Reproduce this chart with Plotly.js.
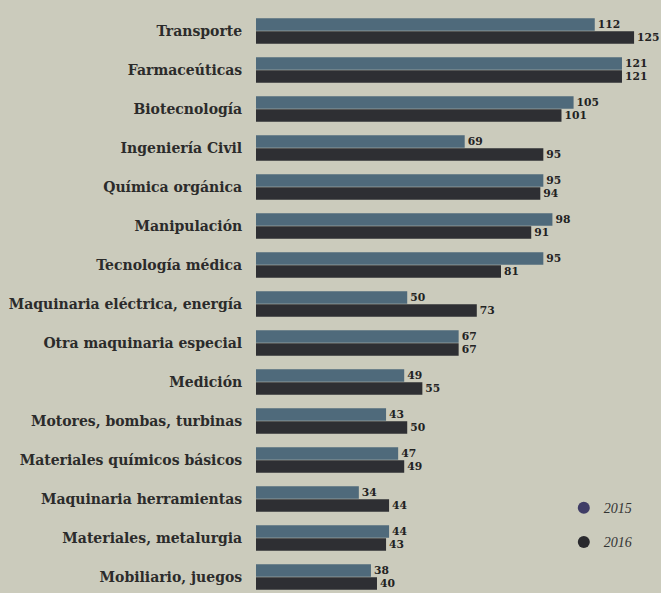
<!DOCTYPE html>
<html><head><meta charset="utf-8">
<script src="https://cdn.plot.ly/plotly-3.0.1.min.js"></script>
<style>html,body{margin:0;padding:0;background:#cbcbbc;}</style>
</head><body>
<div id="chart" style="width:661px;height:593px;"></div>
<script>
const categories = ["Transporte","Farmaceúticas","Biotecnología","Ingeniería Civil","Química orgánica","Manipulación","Tecnología médica","Maquinaria eléctrica, energía","Otra maquinaria especial","Medición","Motores, bombas, turbinas","Materiales químicos básicos","Maquinaria herramientas","Materiales, metalurgia","Mobiliario, juegos"];
const values2015 = [112,121,105,69,95,98,95,50,67,49,43,47,34,44,38];
const values2016 = [125,121,101,95,94,91,81,73,67,55,50,49,44,43,40];
const seriesNames = ["2015","2016"];

const c2015 = "#4f6a7b", c2016 = "#2e2f33";
const valFont = {family:"DejaVu Serif", size:12, color:"#222", weight:"bold"};
const traces = [
  {type:"bar", orientation:"h", y:categories, x:values2015, name:seriesNames[0], marker:{color:c2015},
   text:values2015.map(String), textposition:"outside", textfont:valFont, cliponaxis:false, showlegend:false},
  {type:"bar", orientation:"h", y:categories, x:values2016, name:seriesNames[1], marker:{color:c2016},
   text:values2016.map(String), textposition:"outside", textfont:valFont, cliponaxis:false, showlegend:false},
  {type:"scatter", mode:"markers", x:[null], y:[null], name:seriesNames[0], legendgroup:"a",
   marker:{color:"#3f3d66", size:12, symbol:"circle"}},
  {type:"scatter", mode:"markers", x:[null], y:[null], name:seriesNames[1], legendgroup:"b",
   marker:{color:"#2a2a2e", size:12, symbol:"circle"}}
];
const layout = {
  width:661, height:593,
  margin:{l:256, r:0, t:0, b:0},
  paper_bgcolor:"#cbcbbc", plot_bgcolor:"rgba(0,0,0,0)",
  barmode:"group", bargap:0.33, bargroupgap:0.04,
  xaxis:{range:[0,133.9], showgrid:false, zeroline:false, showticklabels:false, ticks:""},
  yaxis:{type:"category", range:[14.41,-0.795], showgrid:false, zeroline:false, ticks:"outside", ticklen:10,
    tickcolor:"rgba(0,0,0,0)", tickfont:{family:"DejaVu Serif", size:14, color:"#2b2b2b", weight:"bold"}},
  showlegend:true,
  legend:{x:0.76, xanchor:"left", y:0.17, yanchor:"top", bgcolor:"rgba(0,0,0,0)",
    font:{family:"Liberation Serif", size:14, color:"#333", style:"italic"}, tracegroupgap:13, itemwidth:30},
  font:{family:"DejaVu Serif"}
};
Plotly.newPlot("chart", traces, layout, {displayModeBar:false, staticPlot:true});
</script>
</body></html>
